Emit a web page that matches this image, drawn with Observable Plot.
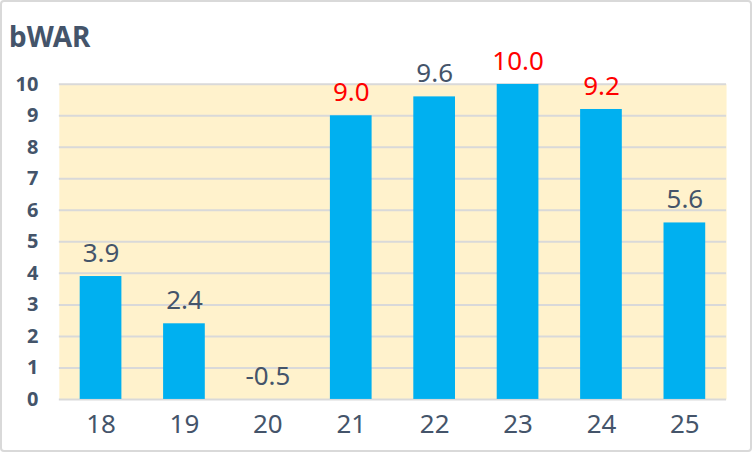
<!DOCTYPE html>
<html>
<head>
<meta charset="utf-8">
<script src="https://cdn.jsdelivr.net/npm/d3@7"></script>
<script src="https://cdn.jsdelivr.net/npm/@observablehq/plot@0.6"></script>
<style>
  html, body { margin: 0; padding: 0; background: #fff; }
  #wrap { position: relative; width: 752px; height: 452px; box-sizing: border-box;
          border: 2px solid #d9d9d9; border-radius: 4px; overflow: hidden;
          font-family: "Noto Sans", sans-serif; }
  #title { position: absolute; left: 7px; top: 20px; font-size: 28px; font-weight: bold;
           color: #44546A; line-height: 1; }
  #chart { position: absolute; left: -2px; top: -2px; }
</style>
</head>
<body>
<div id="wrap">
  <div id="title">bWAR</div>
  <div id="chart"></div>
</div>
<script>
const seasons = ["18", "19", "20", "21", "22", "23", "24", "25"];
const bwar = [3.9, 2.4, -0.5, 9.0, 9.6, 10.0, 9.2, 5.6];
const highlighted = [false, false, false, true, false, true, true, false];
const yTicks = [0, 1, 2, 3, 4, 5, 6, 7, 8, 9, 10];

const data = seasons.map((s, i) => ({season: s, value: bwar[i], hi: highlighted[i]}));

const chart = Plot.plot({
  width: 752,
  height: 452,
  marginLeft: 59,
  marginRight: 24,
  marginTop: 84,
  marginBottom: 52,
  style: {fontFamily: "'Noto Sans', sans-serif", background: "transparent", overflow: "visible"},
  x: {domain: seasons, paddingInner: 0.5, paddingOuter: 0.25, round: false, label: null},
  y: {domain: [0, 10], label: null},
  marks: [
    Plot.frame({fill: "#FFF2CC", stroke: null}),
    Plot.ruleY(yTicks, {stroke: "#d9d9d9", strokeWidth: 2}),
    Plot.barY(data, {x: "season", y: "value", fill: "#00B0F0", clip: true}),
    Plot.axisY({ticks: yTicks, tickSize: 0, tickPadding: 21, fontSize: 20, fontWeight: "bold",
                fill: "#44546A", tickFormat: d => String(d)}),
    Plot.axisX({tickSize: 0, tickPadding: 15, fontSize: 26, fill: "#44546A"}),
    Plot.text(data, {x: "season", y: d => Math.max(d.value, 0), text: d => d.value.toFixed(1),
                     dy: -23, fontSize: 26, letterSpacing: "1px",
                     fill: d => d.hi ? "#FF0000" : "#44546A"})
  ]
});
document.getElementById("chart").appendChild(chart);
</script>
</body>
</html>
